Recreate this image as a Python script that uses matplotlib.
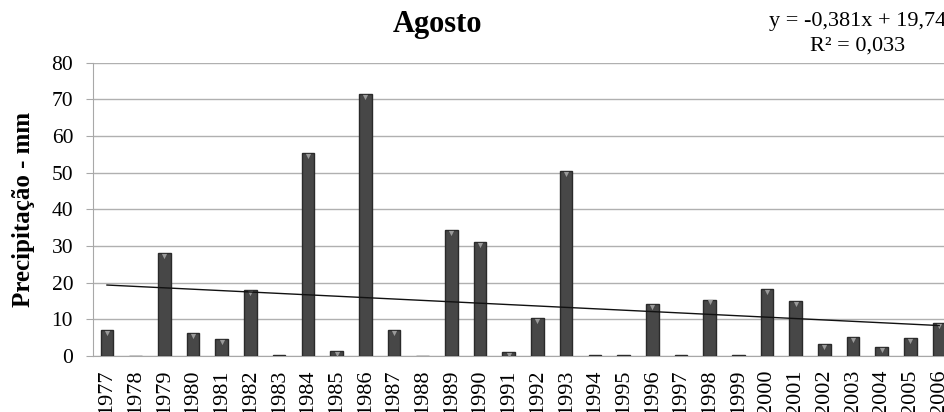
import numpy as np
import matplotlib
matplotlib.use("Agg")
import matplotlib.pyplot as plt

# Monthly rainfall for August (mm), 1977-2006
years = [str(y) for y in range(1977, 2007)]
precip = [7.0, 0.0, 28.0, 6.3, 4.6, 18.1, 0.2, 55.3, 1.4, 71.5,
          7.1, 0.0, 34.4, 31.0, 1.2, 10.3, 50.4, 0.2, 0.2, 14.1,
          0.2, 15.4, 0.2, 18.2, 15.0, 3.3, 5.3, 2.4, 5.0, 9.1]

# Linear trend (x = 1..n)
slope = -0.381
intercept = 19.74
r2 = 0.033

plt.rcParams['font.family'] = ['Liberation Serif', 'DejaVu Serif']

fig = plt.figure(figsize=(9.44, 4.12), dpi=100)
ax = fig.add_axes([0.0981, 0.1359, 0.912, 0.7119])

x = np.arange(len(years))
ax.bar(x, precip, width=0.44, color='#474747', edgecolor='#2a2a2a',
       linewidth=1.0, zorder=3)
# light cap highlight on each bar
nz = [i for i, v in enumerate(precip) if v > 1.0]
ax.scatter([x[i] for i in nz], [precip[i] - 0.8 for i in nz], marker='v',
           s=14, color='#9a9a9a', linewidths=0, zorder=4)

xt = np.arange(1, len(years) + 1)
ax.plot(x, slope * xt + intercept, color='#111111', lw=1.0, zorder=5)

ax.set_xlim(-0.5, len(years) - 0.5)
ax.set_ylim(0, 80)
ax.set_yticks(range(0, 81, 10))
ax.set_xticks(x)
ax.set_xticklabels(years, rotation=90, fontsize=16)
ax.tick_params(axis='y', labelsize=15.5, length=5, color='#a8a8a8', pad=9)
ax.tick_params(axis='x', length=0, pad=10)
ax.yaxis.grid(True, color='#b0b0b0', lw=1.0, zorder=0)
ax.set_axisbelow(True)
for s in ['top', 'right']:
    ax.spines[s].set_visible(False)
ax.spines['left'].set_color('#a8a8a8')
ax.spines['bottom'].set_color('#a8a8a8')

ax.set_ylabel('Precipitação - mm', fontsize=18, fontweight='bold', labelpad=12)
fig.text(0.463, 0.94, 'Agosto', fontsize=22, fontweight='bold',
         ha='center', va='center')
fig.text(0.908, 0.947, 'y = -0,381x + 19,74', fontsize=16,
         ha='center', va='center')
fig.text(0.908, 0.888, 'R² = 0,033', fontsize=16, ha='center', va='center')

fig.savefig('out.png', dpi=100)
